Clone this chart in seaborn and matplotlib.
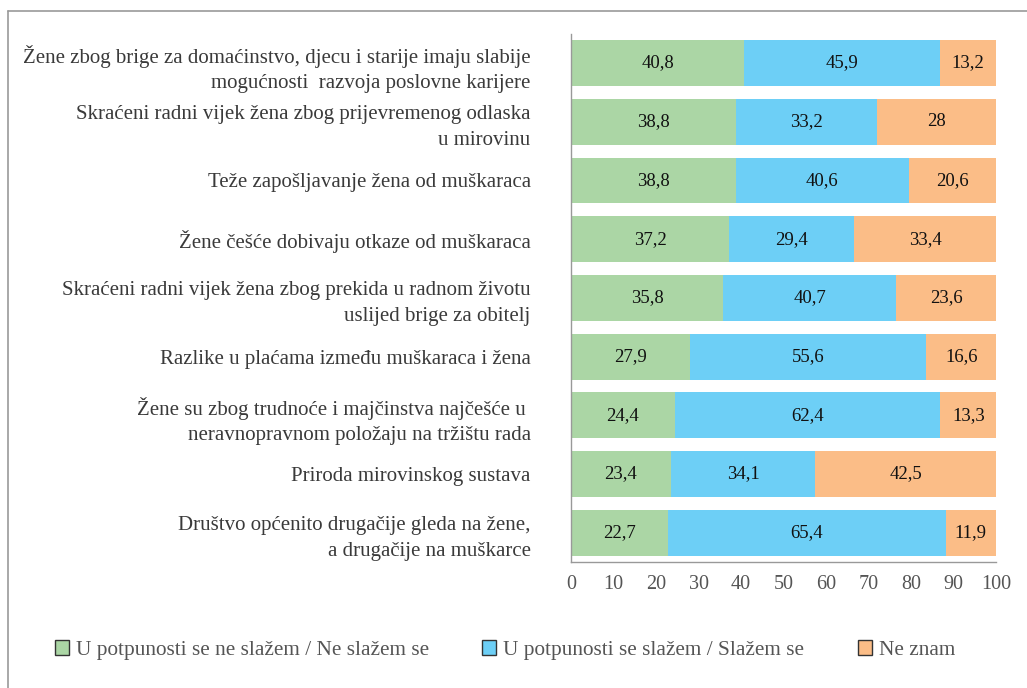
import matplotlib.pyplot as plt
import matplotlib.patches as mpatches
import seaborn as sns
import numpy as np
import pandas as pd

categories = [
    "Žene zbog brige za domaćinstvo, djecu i starije imaju slabije\nmogućnosti  razvoja poslovne karijere",
    "Skraćeni radni vijek žena zbog prijevremenog odlaska\nu mirovinu",
    "Teže zapošljavanje žena od muškaraca",
    "Žene češće dobivaju otkaze od muškaraca",
    "Skraćeni radni vijek žena zbog prekida u radnom životu\nuslijed brige za obitelj",
    "Razlike u plaćama između muškaraca i žena",
    "Žene su zbog trudnoće i majčinstva najčešće u \nneravnopravnom položaju na tržištu rada",
    "Priroda mirovinskog sustava",
    "Društvo općenito drugačije gleda na žene,\na drugačije na muškarce",
]
ne_slazem = [40.8, 38.8, 38.8, 37.2, 35.8, 27.9, 24.4, 23.4, 22.7]
slazem = [45.9, 33.2, 40.6, 29.4, 40.7, 55.6, 62.4, 34.1, 65.4]
ne_znam = [13.2, 28, 20.6, 33.4, 23.6, 16.6, 13.3, 42.5, 11.9]
series_names = [
    "U potpunosti se ne slažem / Ne slažem se",
    "U potpunosti se slažem / Slažem se",
    "Ne znam",
]
colors = ["#abd6a5", "#6dcff6", "#fbbd87"]

sns.set_style("white")
plt.rcParams["font.family"] = ["Liberation Serif", "DejaVu Serif"]

df = pd.DataFrame({"cat": categories, "a": ne_slazem, "b": slazem, "c": ne_znam})
df["ab"] = df["a"] + df["b"]
df["abc"] = df["ab"] + df["c"]

fig = plt.figure(figsize=(10.27, 6.88), dpi=100)
ax = fig.add_axes([0.556, 0.183, 0.414, 0.768])

# stacked bars: draw cumulative totals from the back
for col, color in [("abc", colors[2]), ("ab", colors[1]), ("a", colors[0])]:
    sns.barplot(data=df, x=col, y="cat", orient="h", color=color, saturation=1,
                width=0.78, errorbar=None, linewidth=0, ax=ax)

fmt = lambda v: f"{v:g}".replace(".", ",")
for i, row in df.iterrows():
    for center, v in [(row["a"] / 2, row["a"]),
                      (row["a"] + row["b"] / 2, row["b"]),
                      (row["ab"] + row["c"] / 2, row["c"])]:
        ax.text(center, i, fmt(v), ha="center", va="center", fontsize=13.5, color="#111111")

ax.set_xlim(0, 100)
ax.set_ylim(len(categories) - 0.5, -0.5)
ax.set_xticks(range(0, 101, 10))
ax.set_xlabel("")
ax.set_ylabel("")
ax.set_yticks(np.arange(-0.5, len(categories), 1), minor=True)
ax.tick_params(axis="y", which="major", length=0, pad=29, labelsize=15, labelcolor="#3a3a3a")
ax.tick_params(axis="y", which="minor", length=6, color="#999999", width=1)
ax.tick_params(axis="x", length=5, color="#999999", width=1, labelsize=14.5, labelcolor="#555555", pad=4)
for lbl in ax.get_yticklabels():
    lbl.set_linespacing(1.45)
for s in ["top", "right"]:
    ax.spines[s].set_visible(False)
for s in ["left", "bottom"]:
    ax.spines[s].set_color("#999999")
    ax.spines[s].set_linewidth(1)

handles = [mpatches.Patch(facecolor=c, edgecolor="#333333", linewidth=1) for c in colors]
fig.legend(handles, series_names, loc="center left", bbox_to_anchor=(0.035, 0.055), ncol=3,
           frameon=False, fontsize=15.3, handlelength=0.66, handleheight=0.66, handletextpad=0.33,
           columnspacing=2.5, labelcolor="#555555")

# partial outer frame
fig.add_artist(plt.Line2D([8 / 1027, 1], [1 - 11 / 688] * 2, transform=fig.transFigure, color="#999999", lw=1.2))
fig.add_artist(plt.Line2D([8 / 1027] * 2, [0, 1 - 11 / 688], transform=fig.transFigure, color="#999999", lw=1.2))

plt.savefig("out.png", dpi=100)
